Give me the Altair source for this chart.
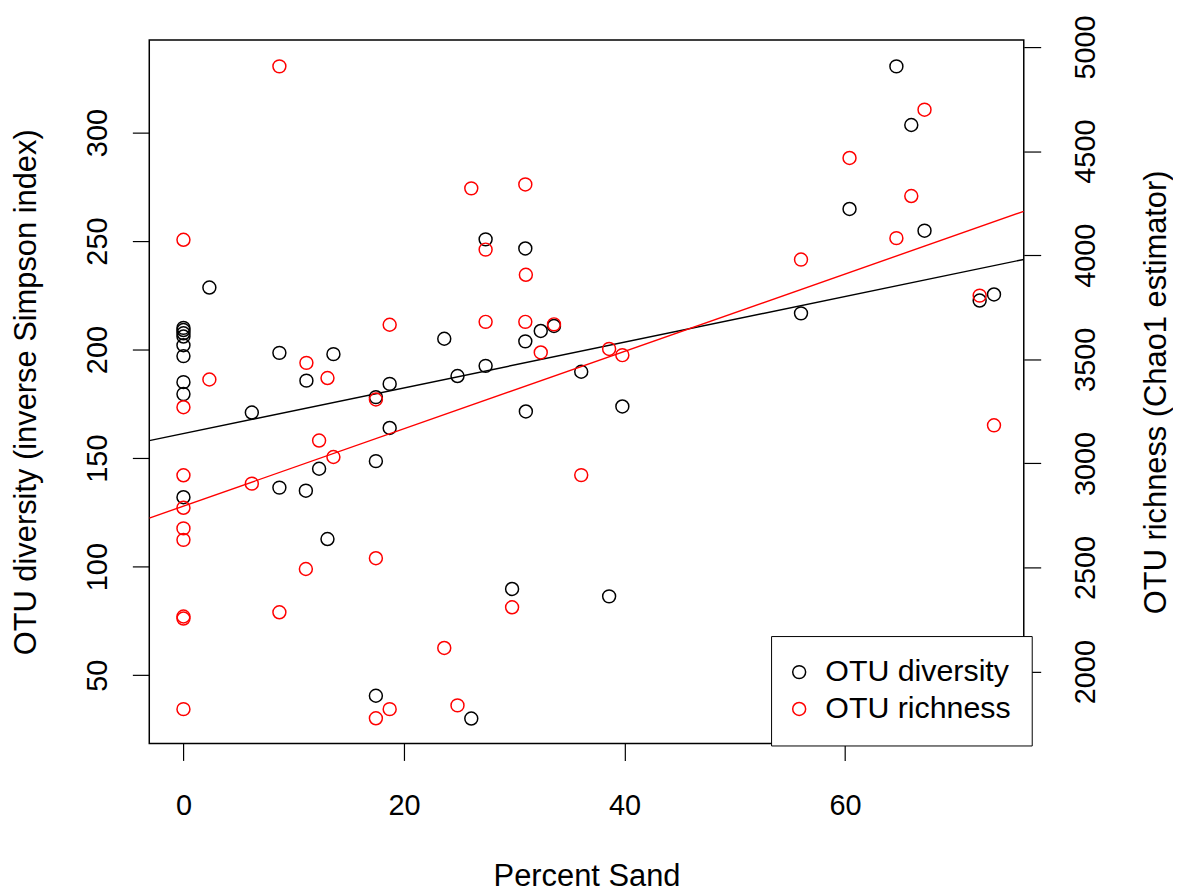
import altair as alt
import pandas as pd

# ---- data ----
sand = [0, 0, 0, 0, 0, 0, 0, 0, 0,
        2.35, 6.2, 8.7, 8.7, 11.15, 11.1, 12.3, 13.06, 13.6,
        17.45, 17.45, 17.45, 18.7, 18.7, 23.65, 24.85, 26.1,
        27.4, 27.4, 29.8, 31.0, 31.0, 31.05, 32.4, 33.6, 36.07,
        38.6, 39.8, 56.0, 60.4, 64.65, 66.0, 67.2, 72.2, 73.5]

diversity = [210, 209, 207.5, 206, 202, 197, 185, 179.5, 132,
             228.6, 171, 198.5, 136.4, 185.7, 135, 145.1, 112.7, 197.9,
             178.1, 148.6, 40.5, 184.2, 163.9, 205, 187.8, 30,
             250.8, 192.5, 89.7, 246.6, 203.8, 171.5, 208.6, 210.9, 189.8,
             86.3, 173.8, 216.7, 264.8, 330.5, 303.5, 254.8, 222.6, 225.4]

richness = [4074, 3270, 2943, 2787, 2688, 2633, 2265, 2255, 1820,
            3403, 2903, 4907, 2285, 3483, 2493, 3110, 3410, 3031,
            3307, 2545, 1776, 3666, 1820, 2114, 1838, 4321,
            4027, 3680, 2309, 4340, 3680, 3906, 3533, 3668, 2944,
            3550, 3520, 3979, 4467, 4082, 4284, 4699, 3806, 3183]

# fitted lines (intercept, slope)
div_fit = [161.3, 1.053]
rich_fit = [2795.0, 18.58]

series = ["OTU diversity", "OTU richness"]
colors = ["black", "red"]

x_domain = [-3.1, 76.2]
div_domain = [18.5, 342.6]
rich_domain = [1655, 5033]
x_ticks = [0, 20, 40, 60]
div_ticks = [50, 100, 150, 200, 250, 300]
rich_ticks = [2000, 2500, 3000, 3500, 4000, 4500, 5000]

df_div = pd.DataFrame({"sand": sand, "value": diversity, "series": series[0]})
df_rich = pd.DataFrame({"sand": sand, "value": richness, "series": series[1]})
df_ext = pd.DataFrame({"sand": x_domain})

FONT = "Liberation Sans"
FS_LAB = 29
FS_TIT = 31
FS_LEG = 30.5
W, H = 879, 707

common_axis = dict(
    labelFont=FONT, titleFont=FONT, labelFontSize=FS_LAB, titleFontSize=FS_TIT,
    labelColor="black", titleColor="black", tickColor="black", tickWidth=1.2,
    titleFontWeight="normal", labelOverlap=False, labelFlush=False,
    domain=False, grid=False, format="d",
)

x_enc = alt.X(
    "sand:Q",
    scale=alt.Scale(domain=x_domain, nice=False, zero=False),
    axis=alt.Axis(
        title="Percent Sand", values=x_ticks, tickSize=17, labelPadding=31,
        labelBaseline="top", labelAlign="center",
        titleY=143, titleBaseline="alphabetic", titleAlign="center",
        **common_axis,
    ),
)

y_div = alt.Y(
    "value:Q",
    scale=alt.Scale(domain=div_domain, nice=False, zero=False),
    axis=alt.Axis(
        title="OTU diversity (inverse Simpson index)", orient="left",
        values=div_ticks, tickSize=17, labelPadding=20,
        labelAngle=-90, labelAlign="center", labelBaseline="bottom",
        titleAngle=-90, titleX=-114, titleY=H / 2,
        titleAlign="center", titleBaseline="alphabetic",
        **common_axis,
    ),
)

y_rich = alt.Y(
    "value:Q",
    scale=alt.Scale(domain=rich_domain, nice=False, zero=False),
    axis=alt.Axis(
        title="OTU richness (Chao1 estimator)", orient="right",
        values=rich_ticks, tickSize=17, labelPadding=31,
        labelAngle=-90, labelAlign="center", labelBaseline="top",
        titleAngle=-90, titleX=142, titleY=H / 2,
        titleAlign="center", titleBaseline="alphabetic",
        **common_axis,
    ),
)

color_enc = alt.Color(
    "series:N",
    scale=alt.Scale(domain=series, range=colors),
    legend=alt.Legend(
        title=None, orient="none", legendX=625, legendY=599,
        strokeColor="black", fillColor="white", padding=21,
        symbolType="circle", symbolSize=169, symbolStrokeWidth=1.5,
        symbolOffset=-8,
        labelFontSize=FS_LEG, labelFont=FONT, labelColor="black",
        labelOffset=11, rowPadding=6, labelLimit=400,
    ),
)

pts_div = alt.Chart(df_div).mark_point(
    shape="circle", filled=False, size=169, strokeWidth=1.5, opacity=1
).encode(x=x_enc, y=y_div, color=color_enc)

line_div = alt.Chart(df_ext).transform_calculate(
    value=f"{div_fit[0]} + {div_fit[1]} * datum.sand"
).mark_line(color="black", strokeWidth=1.4, clip=True).encode(x=x_enc, y=y_div)

pts_rich = alt.Chart(df_rich).mark_point(
    shape="circle", filled=False, size=169, strokeWidth=1.5, opacity=1
).encode(x=x_enc, y=y_rich, color=color_enc)

line_rich = alt.Chart(df_ext).transform_calculate(
    value=f"{rich_fit[0]} + {rich_fit[1]} * datum.sand"
).mark_line(color="red", strokeWidth=1.4, clip=True).encode(x=x_enc, y=y_rich)

chart = alt.layer(
    alt.layer(line_div, pts_div),
    alt.layer(line_rich, pts_rich),
).resolve_scale(y="independent").properties(
    width=W, height=H,
    background="white",
    autosize=alt.AutoSizeParams(type="none"),
    padding={"left": 142, "top": 30, "right": 150, "bottom": 150},
).configure_view(
    stroke="black", strokeWidth=1.5
)

chart.save("out.html", embed_options={"renderer": "svg", "actions": False})
